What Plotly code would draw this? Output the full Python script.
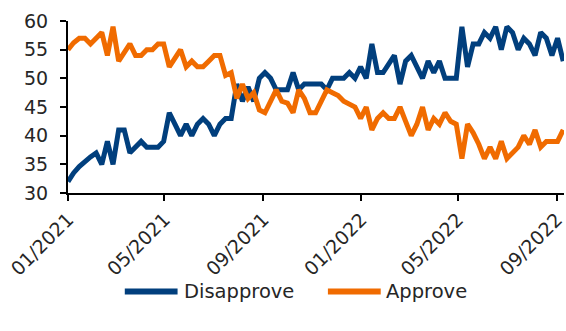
import pandas as pd
import plotly.graph_objects as go

# Weekly poll dates (first week of Jan 2021 to early Sep 2022)
dates = pd.date_range("2021-01-01", periods=89, freq="7D")

disapprove = [
    32, 33.5, 34.6, 35.5, 36.3, 37, 35, 39, 35, 41,
    41, 37, 38, 39, 38, 38, 38, 39, 44, 42,
    40, 42, 40, 42, 43, 42, 40, 42, 43, 43,
    49, 46, 48.5, 46, 50, 51, 50, 48, 48, 48,
    51, 48, 49, 49, 49, 49, 48, 50, 50, 50,
    51, 50, 52, 50, 56, 51, 51, 52.5, 54, 49,
    53, 54, 52, 50, 53, 51, 53, 50, 50, 50,
    59, 52, 56, 56, 58, 57, 59, 55, 59, 58,
    55, 57, 56, 54, 58, 57, 54, 57, 53,
]
approve = [
    55, 56.2, 57, 57, 56, 57, 58, 54, 59, 53,
    54.5, 56, 54, 54, 55, 55, 56, 56, 52, 53.5,
    55, 52, 53, 52, 52, 53, 54, 54, 50.5, 51,
    46.5, 49, 46.5, 47.5, 44.5, 44, 46, 48, 46, 45.7,
    44, 48, 46.5, 44, 44, 46, 48, 47.5, 47, 46,
    45.4, 45, 43, 45, 41, 43, 44, 43, 43, 45,
    42.5, 40, 42, 45, 41, 43, 42, 44, 42.5, 42,
    36, 42, 40.5, 38.5, 36, 38, 36, 39, 36, 37,
    38, 40, 38.5, 41, 38, 39, 39, 39, 41,
]

series_names = ["Disapprove", "Approve"]
series_colors = ["#013f7d", "#f06b00"]
y_ticks = [30, 35, 40, 45, 50, 55, 60]

FONT = "DejaVu Sans"
TXT = "#262626"

fig = go.Figure()
for name, vals, col in zip(series_names, [disapprove, approve], series_colors):
    fig.add_trace(go.Scatter(
        x=dates, y=vals, mode="lines", name=name,
        line=dict(color=col, width=5), showlegend=False,
    ))

# custom legend (long line samples like the reference)
leg_y = -0.572
legend_items = [
    (series_names[0], series_colors[0], 0.1145, 0.2209, 0.229),
    (series_names[1], series_colors[1], 0.524, 0.6305, 0.638),
]
for name, col, x0, x1, xt in legend_items:
    fig.add_shape(type="line", xref="paper", yref="paper",
                  x0=x0, x1=x1, y0=leg_y, y1=leg_y,
                  line=dict(color=col, width=6))
    fig.add_annotation(xref="paper", yref="paper", x=xt, y=leg_y,
                       text=name, showarrow=False, xanchor="left",
                       yanchor="middle",
                       font=dict(family=FONT, size=19.5, color=TXT))

fig.update_layout(
    width=566, height=331,
    margin=dict(l=68, r=0, t=21, b=138),
    paper_bgcolor="white", plot_bgcolor="white",
    font=dict(family=FONT, size=19, color=TXT),
)
fig.update_xaxes(
    type="date",
    range=["2021-01-01", "2022-09-10"],
    tick0="2021-01-01", dtick="M4", tickformat="%m/%Y",
    tickangle=-45,
    ticklabeloverflow="allow",
    showgrid=False, zeroline=False,
    showline=True, linecolor="black", linewidth=2,
    ticks="outside", ticklen=6, tickwidth=1.5, tickcolor="black",
    tickfont=dict(family=FONT, size=19, color=TXT),
)
fig.update_yaxes(
    range=[30, 60], tickvals=y_ticks,
    showgrid=False, zeroline=False,
    showline=True, linecolor="black", linewidth=2,
    ticks="outside", ticklen=6, tickwidth=1.5, tickcolor="black",
    ticklabelstandoff=8,
    tickfont=dict(family=FONT, size=19, color=TXT),
)

fig.write_html("out.html")
